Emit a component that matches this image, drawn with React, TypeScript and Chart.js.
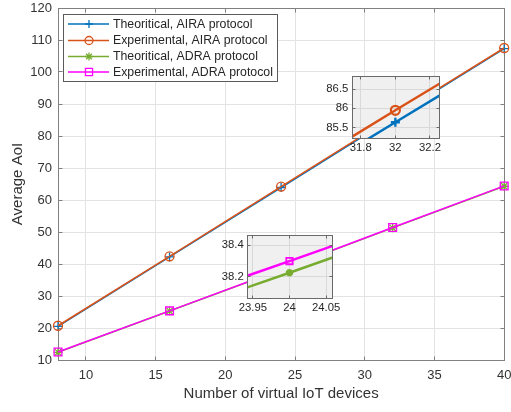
import React, { useEffect, useRef } from "react";
import { Chart, registerables } from "chart.js";

Chart.register(...registerables);

// ---------- data ----------
const devices = [8, 16, 24, 32, 40];
const theoAIRA = [20.5, 42.2, 63.9, 85.64, 107.3];
const expAIRA = [20.7, 42.4, 64.2, 85.95, 107.5];
const theoADRA = [12.4, 25.3, 38.225, 51.3, 64.3];
const expADRA = [12.5, 25.35, 38.299, 51.4, 64.4];

const seriesNames = [
  "Theoritical, AIRA protocol",
  "Experimental, AIRA protocol",
  "Theoritical, ADRA protocol",
  "Experimental, ADRA protocol",
];
const seriesValues = [theoAIRA, expAIRA, theoADRA, expADRA];
const seriesColors = ["#0072BD", "#D95319", "#77AC30", "#FF00FF"];
const seriesMarkers = ["cross", "circle", "star", "rect"];

const xTicks = [10, 15, 20, 25, 30, 35, 40];
const yTicks = [10, 20, 30, 40, 50, 60, 70, 80, 90, 100, 110, 120];
const xTitle = "Number of virtual IoT devices";
const yTitle = "Average AoI";

const inset1XTicks = [31.8, 32, 32.2];
const inset1YTicks = [85.5, 86, 86.5];
const inset2XTicks = [23.95, 24, 24.05];
const inset2YTicks = [38.2, 38.4];

// ---------- helpers ----------
const FONT = "'Liberation Sans', Arial, Helvetica, sans-serif";
const fmt = (v: any) => `${+Number(v).toFixed(3)}`;
const al = (p: number) => Math.round(p - 0.5) + 0.5;

function makeDatasets(lw: number, radii: number[], plw: number[], clip: any) {
  return seriesValues.map((vals, i) => ({
    label: seriesNames[i],
    data: devices.map((x, j) => ({ x, y: vals[j] })),
    borderColor: seriesColors[i],
    backgroundColor: seriesColors[i],
    borderWidth: lw,
    pointStyle: seriesMarkers[i],
    pointRadius: radii[i],
    pointBorderWidth: plw[i],
    pointBorderColor: seriesColors[i],
    pointBackgroundColor: "rgba(0,0,0,0)",
    tension: 0,
    order: 3 - i,
    clip,
  }));
}

function drawMarker(ctx: CanvasRenderingContext2D, style: string, x: number, y: number, r: number) {
  ctx.beginPath();
  if (style === "cross") {
    ctx.moveTo(x - r, y); ctx.lineTo(x + r, y);
    ctx.moveTo(x, y - r); ctx.lineTo(x, y + r);
  } else if (style === "circle") {
    ctx.arc(x, y, r, 0, Math.PI * 2);
  } else if (style === "star") {
    const d = r * Math.SQRT1_2;
    ctx.moveTo(x - r, y); ctx.lineTo(x + r, y);
    ctx.moveTo(x, y - r); ctx.lineTo(x, y + r);
    ctx.moveTo(x - d, y - d); ctx.lineTo(x + d, y + d);
    ctx.moveTo(x - d, y + d); ctx.lineTo(x + d, y - d);
  } else {
    const s = r * Math.SQRT1_2;
    ctx.rect(x - s, y - s, 2 * s, 2 * s);
  }
  ctx.stroke();
}

function frameAndTicks(chart: any, xt: number[], yt: number[], len: number, color: string) {
  const { ctx, chartArea: a, scales } = chart;
  const L = al(a.left), R = al(a.right), T = al(a.top), B = al(a.bottom);
  ctx.save();
  ctx.strokeStyle = color;
  ctx.lineWidth = 1;
  ctx.strokeRect(L, T, R - L, B - T);
  ctx.beginPath();
  xt.forEach((v) => {
    const px = al(scales.x.getPixelForValue(v));
    ctx.moveTo(px, B); ctx.lineTo(px, B - len);
    ctx.moveTo(px, T); ctx.lineTo(px, T + len);
  });
  yt.forEach((v) => {
    const py = al(scales.y.getPixelForValue(v));
    ctx.moveTo(L, py); ctx.lineTo(L + len, py);
    ctx.moveTo(R, py); ctx.lineTo(R - len, py);
  });
  ctx.stroke();
  ctx.restore();
}

// ---------- main chart ----------
function mainConfig(): any {
  const framePlugin = {
    id: "mainFrame",
    beforeDatasetsDraw(chart: any) {
      frameAndTicks(chart, xTicks, yTicks, 4, "#808080");
    },
  };
  const legendPlugin = {
    id: "mainLegend",
    afterDraw(chart: any) {
      const ctx = chart.ctx as CanvasRenderingContext2D;
      ctx.save();
      ctx.fillStyle = "#ffffff";
      ctx.fillRect(63.5, 14.5, 214, 67);
      ctx.strokeStyle = "#5a5a5a";
      ctx.lineWidth = 1;
      ctx.strokeRect(63.5, 14.5, 214, 67);
      const rows = [24, 40.5, 56.5, 72];
      seriesNames.forEach((name, i) => {
        const y = rows[i];
        ctx.strokeStyle = seriesColors[i];
        ctx.lineWidth = 1.5;
        ctx.beginPath();
        ctx.moveTo(68, y); ctx.lineTo(109, y);
        ctx.stroke();
        ctx.lineWidth = 1.3;
        drawMarker(ctx, seriesMarkers[i], 89, y, i === 3 ? 5 : 4);
        ctx.fillStyle = "#262626";
        ctx.font = `12.3px ${FONT}`;
        ctx.textAlign = "left";
        ctx.textBaseline = "middle";
        ctx.fillText(name, 113, y + 0.5);
      });
      ctx.restore();
    },
  };
  return {
    type: "line",
    data: { datasets: makeDatasets(1.5, [4.5, 4.5, 4.5, 5.5], [1.3, 1.3, 1.3, 1.3], false) },
    options: {
      animation: false,
      responsive: false,
      events: [],
      layout: { padding: { left: 0, right: 6, top: 8, bottom: 0 } },
      plugins: { legend: { display: false }, tooltip: { enabled: false } },
      scales: {
        x: {
          type: "linear",
          min: 8,
          max: 40,
          afterBuildTicks: (s: any) => { s.ticks = xTicks.map((v) => ({ value: v })); },
          afterFit: (s: any) => { s.height = 52; s.paddingLeft = 0; s.paddingRight = 0; },
          grid: { color: "#e3e3e3", drawTicks: false, lineWidth: 1 },
          border: { display: false },
          ticks: { padding: 8, color: "#333333", font: { family: FONT, size: 13 }, maxRotation: 0, autoSkip: false, callback: fmt },
          title: { display: true, text: xTitle, color: "#333333", font: { family: FONT, size: 15 }, padding: { top: 0, bottom: 9 } },
        },
        y: {
          type: "linear",
          min: 10,
          max: 120,
          afterBuildTicks: (s: any) => { s.ticks = yTicks.map((v) => ({ value: v })); },
          afterFit: (s: any) => { s.width = 58; s.paddingTop = 0; s.paddingBottom = 0; },
          grid: { color: "#e3e3e3", drawTicks: false, lineWidth: 1 },
          border: { display: false },
          ticks: { padding: 6, color: "#333333", font: { family: FONT, size: 13 }, autoSkip: false, callback: fmt },
          title: { display: true, text: yTitle, color: "#333333", font: { family: FONT, size: 15 }, padding: { top: 9, bottom: 0 } },
        },
      },
    },
    plugins: [framePlugin, legendPlugin],
  };
}

// ---------- inset charts ----------
type InsetParams = {
  xmin: number; xmax: number; ymin: number; ymax: number;
  xt: number[]; yt: number[]; yw: number; xh: number; padTop: number; padRight: number;
};

function insetConfig(p: InsetParams): any {
  const insetPlugin = {
    id: "insetBox",
    beforeDraw(chart: any) {
      const { ctx, chartArea: a } = chart;
      ctx.save();
      ctx.fillStyle = "#f0f0f0";
      ctx.fillRect(a.left, a.top, a.right - a.left, a.bottom - a.top);
      ctx.restore();
    },
    afterDatasetsDraw(chart: any) {
      frameAndTicks(chart, p.xt, p.yt, 3, "#6a6a6a");
    },
  };
  return {
    type: "line",
    data: { datasets: makeDatasets(2.5, [4.5, 4.5, 3.6, 4.5], [2.4, 2.2, 3.2, 1.8], 0) },
    options: {
      animation: false,
      responsive: false,
      events: [],
      layout: { padding: { left: 0, right: p.padRight, top: p.padTop, bottom: 0 } },
      plugins: { legend: { display: false }, tooltip: { enabled: false } },
      scales: {
        x: {
          type: "linear",
          min: p.xmin,
          max: p.xmax,
          afterBuildTicks: (s: any) => { s.ticks = p.xt.map((v) => ({ value: v })); },
          afterFit: (s: any) => { s.height = p.xh; s.paddingLeft = 0; s.paddingRight = 0; },
          grid: { color: "#d9d9d9", drawTicks: false, lineWidth: 1 },
          border: { display: false },
          ticks: { padding: 3, color: "#262626", font: { family: FONT, size: 11.3 }, maxRotation: 0, autoSkip: false, callback: fmt },
        },
        y: {
          type: "linear",
          min: p.ymin,
          max: p.ymax,
          afterBuildTicks: (s: any) => { s.ticks = p.yt.map((v) => ({ value: v })); },
          afterFit: (s: any) => { s.width = p.yw; s.paddingTop = 0; s.paddingBottom = 0; },
          grid: { color: "#d9d9d9", drawTicks: false, lineWidth: 1 },
          border: { display: false },
          ticks: { padding: 4, color: "#262626", font: { family: FONT, size: 11.3 }, autoSkip: false, callback: fmt },
        },
      },
    },
    plugins: [insetPlugin],
  };
}

function ChartCanvas({ left, top, width, height, build }: { left: number; top: number; width: number; height: number; build: () => any }) {
  const ref = useRef<HTMLCanvasElement>(null);
  useEffect(() => {
    const chart = new Chart(ref.current as HTMLCanvasElement, build());
    return () => chart.destroy();
  }, []);
  return (
    <canvas
      ref={ref}
      width={width}
      height={height}
      style={{ position: "absolute", left, top, width, height }}
    />
  );
}

export default function App() {
  return (
    <div style={{ position: "fixed", left: 0, top: 0, width: 511, height: 412, background: "#ffffff", overflow: "hidden" }}>
      <ChartCanvas left={0} top={0} width={511} height={412} build={mainConfig} />
      <ChartCanvas
        left={305}
        top={68}
        width={142}
        height={95}
        build={() =>
          insetConfig({ xmin: 31.751, xmax: 32.254, ymin: 85.226, ymax: 86.836, xt: inset1XTicks, yt: inset1YTicks, yw: 47.3, xh: 24.7, padTop: 8, padRight: 7.7 })
        }
      />
      <ChartCanvas
        left={210}
        top={228}
        width={130}
        height={96}
        build={() =>
          insetConfig({ xmin: 23.943, xmax: 24.059, ymin: 38.063, ymax: 38.463, xt: inset2XTicks, yt: inset2YTicks, yw: 37.7, xh: 25.7, padTop: 7, padRight: 7.3 })
        }
      />
    </div>
  );
}
